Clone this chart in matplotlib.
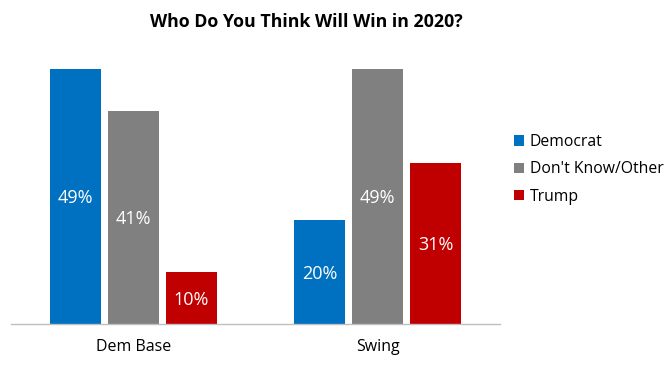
import matplotlib
matplotlib.use("Agg")
import matplotlib.pyplot as plt
import numpy as np

categories = ["Dem Base", "Swing"]
series_names = ["Democrat", "Don't Know/Other", "Trump"]
democrat = [49, 20]
dont_know = [41, 49]
trump = [10, 31]
colors = ["#0070C0", "#808080", "#C00000"]

plt.rcParams['font.family'] = ['Open Sans', 'DejaVu Sans']

fig = plt.figure(figsize=(6.7, 3.74), dpi=100)
ax = fig.add_axes([11/670, 1-324/374, 489/670, 284/374])

x = np.arange(len(categories))
width = 0.208
step = 0.237
handles = []
for i, (vals, name, c) in enumerate(zip([democrat, dont_know, trump], series_names, colors)):
    bars = ax.bar(x + (i-1)*step, vals, width, color=c, label=name)
    handles.append(bars)
    for b, v in zip(bars, vals):
        ax.text(b.get_x()+b.get_width()/2, v/2 - 0.3, f"{v}%", ha='center', va='center',
                color='white', fontsize=13)

ax.set_xlim(-0.5, 1.5)
ax.set_ylim(0, 54.6)
ax.set_yticks([])
ax.set_xticks(x)
ax.set_xticklabels(categories, fontsize=11.5)
ax.tick_params(axis='x', length=0, pad=11)
for s in ['top', 'right', 'left']:
    ax.spines[s].set_visible(False)
ax.spines['bottom'].set_color('#BFBFBF')
ax.spines['bottom'].set_linewidth(1)

fig.text(306/670, 1-22/374, "Who Do You Think Will Win in 2020?", ha='center', va='center',
         fontsize=12.8, fontweight='bold')

fig.legend(handles, series_names, loc='upper left', bbox_to_anchor=(500/670, 1-120/374),
           frameon=False, fontsize=11.3, handlelength=0.65, handleheight=0.65,
           handletextpad=0.35, labelspacing=0.72)

fig.savefig("out.png", dpi=100)
